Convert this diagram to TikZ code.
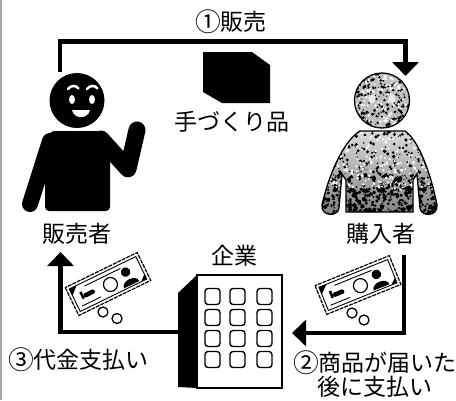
\documentclass[tikz,border=0pt]{standalone}
\usepackage{fontspec}
\setmainfont{Noto Sans CJK JP}
\usetikzlibrary{arrows.meta}
% circled step numbers, set a little larger than the body text
\newcommand\stepnum[1]{\raisebox{-0.06em}{\scalebox{1.12}{#1}}}
\tikzset{
  banknote/.pic={
    \fill[white] (-40,-15.5) rectangle (40,15.5);
    \draw[line width=1.2pt, dash pattern=on 4pt off 1pt] (-40,-15.5) rectangle (40,15.5);
    \draw[line width=0.9pt] (-37,-12.5) rectangle (37,12.5);
    \fill (-37,-12.5) -- (-29,-12.5) -- (-37,-5) -- cycle;
    \fill (37,12.5) -- (31,12.5) -- (37,7) -- cycle;
    \draw[line width=0.9pt] (-22,-8.5) -- (18,-8.5);
    \draw[line width=0.9pt] (-33,8.5) -- (-12,8.5);
    \fill[rounded corners=1.5pt] (-27,-2) rectangle (-15,2.5);
    \fill (-29.5,-5) rectangle (-27,2.5);
    \draw[line width=1.2pt] (2,1.5) circle (7);
    \fill (21,-3) circle (4.8);
    \fill (12.5,11) .. controls (12.5,3) and (29.5,3) .. (29.5,11) -- cycle;
  }
}
% outline of the buyer's body and arms, as one closed path
\newcommand\buyerBodyPath{(360,131) .. controls (345,140) and (330,170) .. (322,205)
  .. controls (321,217) and (338,217) .. (339,208) -- (342,174) -- (346,180) -- (346,212)
  -- (413,212) -- (413,180) -- (417,174) -- (420,208)
  .. controls (421,217) and (438,217) .. (437,205)
  .. controls (430,170) and (418,140) .. (405,131) -- cycle}
\begin{document}
\begin{tikzpicture}[x=1pt,y=-1pt,
  flow/.style={line width=4.5pt,-{Triangle[width=26pt,length=14pt]}},
  lbl/.style={inner sep=0pt,font=\fontsize{23}{24}\selectfont},
  win/.style={draw,line width=1.4pt,rounded corners=3pt},
  coin/.style={draw,fill=white,line width=1.3pt}
]
\useasboundingbox (0,0) rectangle (456,400);
\fill[white] (0,0) rectangle (456,400);
% frame edge
\draw[gray!70,line width=1.5pt] (0.75,0) -- (0.75,400);

% ---------- seller (black figure) ----------
\fill (77,100.5) circle (27.5);
\fill[rounded corners=4pt] (50,131) -- (100,131) -- (110,150) -- (110,211) -- (45,211) -- (45,160) -- cycle;
\draw[line width=16pt,line cap=round] (50,141) -- (30,204);
\draw[line width=17pt,line cap=round,line join=round] (101,139) -- (128,169) -- (137,130);
\fill[white] (72,99.5) ellipse (3 and 4.5);
\fill[white] (92,99.5) ellipse (3 and 4.5);
\draw[white,line width=2.5pt,line cap=round] (68,89) .. controls (71,85) and (76,85) .. (78.5,88.5);
\draw[white,line width=2.5pt,line cap=round] (87,89) .. controls (90,85) and (95,85) .. (97.5,88.5);
\fill[white] (72,110) .. controls (74,119.5) and (88,119.5) .. (90,110) -- cycle;

% ---------- buyer (grainy grey figure) ----------
\pgfmathsetseed{17}
\begin{scope}
  \shade[top color=black!15,bottom color=black!50] \buyerBodyPath;
  \clip \buyerBodyPath;
  \foreach \i in {1,...,480}{
    \pgfmathsetmacro\px{320+118*rnd}
    \pgfmathsetmacro\py{130+88*rnd}
    \pgfmathsetmacro\pr{0.5+1.3*rnd}
    \fill[black] (\px,\py) circle (\pr);
  }
  \foreach \i in {1,...,350}{
    \pgfmathsetmacro\px{320+118*rnd}
    \pgfmathsetmacro\py{175+42*rnd}
    \pgfmathsetmacro\pr{0.6+1.6*rnd}
    \fill[black] (\px,\py) circle (\pr);
  }
  \foreach \i in {1,...,300}{
    \pgfmathsetmacro\px{320+118*rnd}
    \pgfmathsetmacro\py{130+60*rnd}
    \pgfmathsetmacro\pr{0.5+1.2*rnd}
    \fill[white] (\px,\py) circle (\pr);
  }
\end{scope}
\draw[line width=1.3pt] \buyerBodyPath;
\begin{scope}
  \fill[black!25] (382,100.5) circle (27.5);
  \clip (382,100.5) circle (27.5);
  \foreach \i in {1,...,240}{
    \pgfmathsetmacro\px{354+56*rnd}
    \pgfmathsetmacro\py{73+56*rnd}
    \pgfmathsetmacro\pr{0.5+1.3*rnd}
    \fill[black] (\px,\py) circle (\pr);
  }
  \foreach \i in {1,...,180}{
    \pgfmathsetmacro\px{354+56*rnd}
    \pgfmathsetmacro\py{73+56*rnd}
    \pgfmathsetmacro\pr{0.5+1.2*rnd}
    \fill[white] (\px,\py) circle (\pr);
  }
  \fill[black!8] (372,99) ellipse (3.5 and 4.5);
  \fill[black!8] (392,99) ellipse (3.5 and 4.5);
\end{scope}
\draw[line width=1.3pt] (382,100.5) circle (27.5);

% ---------- handmade goods ----------
\fill (203,52) -- (252,52) -- (270,65) -- (270,103) -- (222,103) -- (203,92) -- cycle;

% ---------- company building ----------
\fill (178,293) -- (197,275) -- (197,388) -- (178,387) -- cycle;
\draw[fill=white,line width=1.5pt] (197,275) rectangle (282,388);
\foreach \cx in {212.5,237.5,264.5}
  \foreach \cy in {296.5,317.5,338.5,359.5}
    \draw[win] (\cx-7.5,\cy-8) rectangle (\cx+7.5,\cy+8);

% ---------- money ----------
\draw[coin] (103,312) circle (5);
\draw[coin] (117,318.5) circle (5);
\draw[coin] (352,313) circle (5);
\draw[coin] (364,320) circle (5);
\pic[rotate=26] at (108,284) {banknote};
\pic[rotate=22] at (358,285) {banknote};

% ---------- labels ----------
\node[lbl] (sale)    at (231,22)  {\stepnum{①}販売};
\node[lbl] (goods)   at (232,122) {手づくり品};
\node[lbl] (seller)  at (77,234)  {販売者};
\node[lbl] (buyer)   at (381,234) {購入者};
\node[lbl] (company) at (234,256) {企業};
\node[lbl] (pay3)    at (78.5,360) {\stepnum{③}代金支払い};
\node[lbl,align=center] (pay2) at (375,374) {\stepnum{②}商品が届いた\\[0pt]後に支払い};

% ---------- connectors ----------
\coordinate (sellerTop) at (60,72);
\coordinate (buyerTop)  at (405.5,76);
\coordinate (topRail)   at (0,41.5);
\coordinate (buyerOut)  at (404,255);
\coordinate (bldgIn)    at (292,333);
\coordinate (bldgOut)   at (178,332);
\coordinate (sellerIn)  at (60.5,252);
\draw[flow] (sellerTop) -- (sellerTop |- topRail) -- (buyerTop |- topRail) -- (buyerTop);
\draw[flow] (buyerOut) |- (bldgIn);
\draw[flow] (bldgOut) -| (sellerIn);
\end{tikzpicture}
\end{document}
